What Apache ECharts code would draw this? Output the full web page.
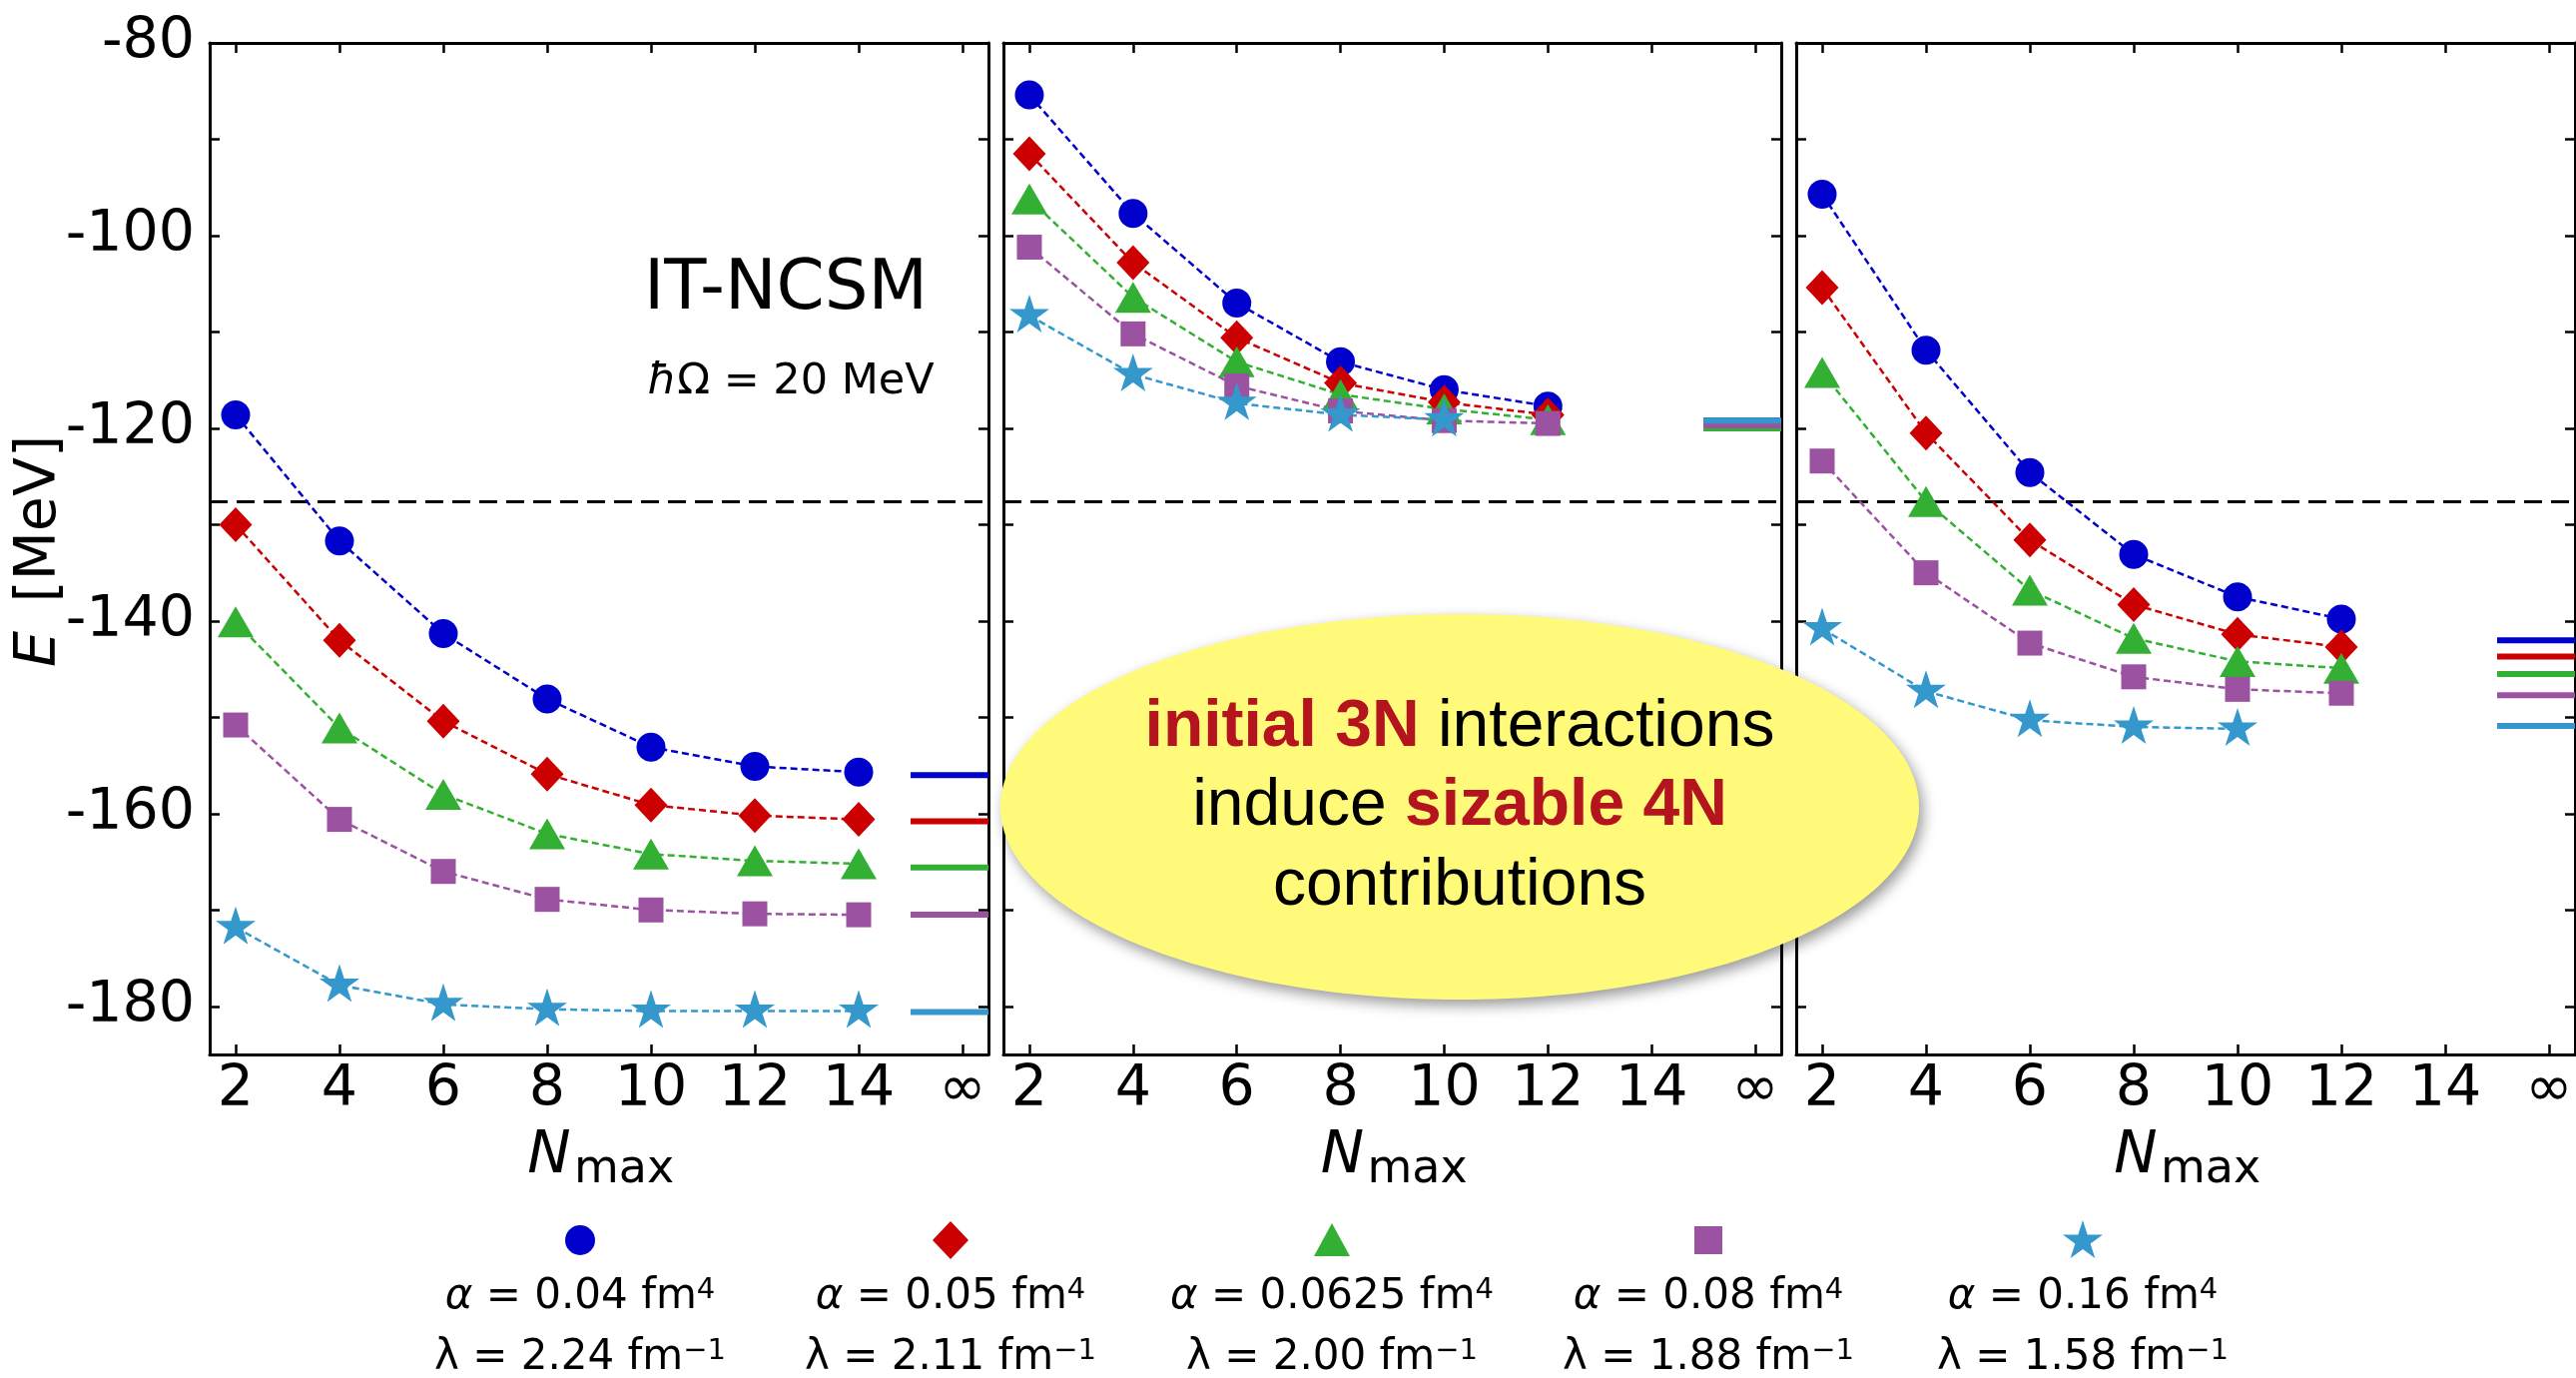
<!DOCTYPE html>
<html><head><meta charset="utf-8">
<script src="https://cdn.jsdelivr.net/npm/echarts@6/dist/echarts.min.js"></script>
<style>html,body{margin:0;padding:0;background:#fff}#c{width:2580px;height:1380px}</style>
</head><body><div id="c"></div>
<script>
// ---------- data ----------
const nmaxTicks = [2, 4, 6, 8, 10, 12, 14, 16];
const nmaxTickLabels = ['2', '4', '6', '8', '10', '12', '14', '∞'];
const energyTicks = [-180, -170, -160, -150, -140, -130, -120, -110, -100, -90, -80];
const energyLabels = [-180, -160, -140, -120, -100, -80];
const expEnergy = -127.62;

const alphaValues = ['0.04', '0.05', '0.0625', '0.08', '0.16'];
const lambdaValues = ['2.24', '2.11', '2.00', '1.88', '1.58'];

// left panel
const leftNmax = [2, 4, 6, 8, 10, 12, 14];
const leftA004 = [-118.6, -131.7, -141.3, -148.1, -153.1, -155.1, -155.7];
const leftA005 = [-130.0, -142.0, -150.4, -155.9, -159.1, -160.2, -160.6];
const leftA0625 = [-140.1, -151.1, -158.0, -162.1, -164.2, -164.9, -165.2];
const leftA008 = [-150.8, -160.6, -166.0, -168.9, -170.0, -170.4, -170.5];
const leftA016 = [-171.8, -177.8, -179.8, -180.3, -180.5, -180.5, -180.5];
const leftInf = [-156.0, -160.8, -165.6, -170.5, -180.6];

// middle panel
const midNmax = [2, 4, 6, 8, 10, 12];
const midA004 = [-85.4, -97.7, -107.0, -113.1, -116.0, -117.7];
const midA005 = [-91.5, -102.8, -110.6, -115.3, -117.3, -118.6];
const midA0625 = [-96.2, -106.4, -113.1, -116.5, -118.0, -119.1];
const midA008 = [-101.2, -110.2, -115.6, -118.2, -119.2, -119.5];
const midA016 = [-108.3, -114.4, -117.4, -118.6, -119.1];
const midInf = [-119.2, -119.4, -120.0, -119.7, -119.2];

// right panel
const rightNmax = [2, 4, 6, 8, 10, 12];
const rightA004 = [-95.7, -111.9, -124.6, -133.1, -137.5, -139.8];
const rightA005 = [-105.4, -120.5, -131.6, -138.3, -141.4, -142.7];
const rightA0625 = [-114.2, -127.6, -136.8, -141.8, -144.2, -144.9];
const rightA008 = [-123.4, -135.0, -142.3, -145.8, -147.1, -147.5];
const rightA016 = [-140.8, -147.3, -150.3, -151.0, -151.2];
const rightInf = [-142.0, -143.7, -145.5, -147.7, -150.9];

// ---------- styles ----------
const colors = ['#0000cc', '#cc0000', '#33b033', '#9b52a0', '#3498cc'];
const STAR = 'path://M50,0L61.23,34.55L97.55,34.55L68.17,55.9L79.39,90.45L50,69.1L20.61,90.45L31.83,55.9L2.45,34.55L38.77,34.55Z';
const symbols = ['circle', 'diamond', 'triangle', 'rect', STAR];
const symbolSizes = [29, [33, 35], [36, 31], 25, [40, 38]];
const symbolOffsets = [[0,0],[0,0],[0,0],[0,0],[0,-2]];

const panels = [
  { xs: leftNmax, vals: [leftA004, leftA005, leftA0625, leftA008, leftA016], inf: leftInf, left: 210, width: 780 },
  { xs: midNmax, vals: [midA004, midA005, midA0625, midA008, midA016], inf: midInf, left: 1005, width: 779 },
  { xs: rightNmax, vals: [rightA004, rightA005, rightA0625, rightA008, rightA016], inf: rightInf, left: 1799, width: 780 }
];
const TOP = 43, HEIGHT = 1013;
const XMIN = 1.5, XMAX = 16.5, INF_START = 15;
const YMIN = -185, YMAX = -80;
const FONT = 'DejaVu Sans';

const grids = [], xAxes = [], yAxes = [], series = [];
panels.forEach((p, pi) => {
  grids.push({ left: p.left, top: TOP, width: p.width, height: HEIGHT, containLabel: false });
  const axLine = { show: true, onZero: false, lineStyle: { color: '#000', width: 3 } };
  const tickX = { show: true, inside: true, length: 10, customValues: nmaxTicks, lineStyle: { color: '#000', width: 2.5 } };
  const tickY = { show: true, inside: true, length: 10, customValues: energyTicks, lineStyle: { color: '#000', width: 2.5 } };
  xAxes.push({
    gridIndex: pi, type: 'value', min: XMIN, max: XMAX, position: 'bottom',
    axisLine: axLine, axisTick: tickX, splitLine: { show: false },
    axisLabel: { show: true, customValues: nmaxTicks, margin: 8, color: '#000', fontSize: 57, fontFamily: FONT,
      formatter: v => nmaxTickLabels[nmaxTicks.indexOf(v)] }
  });
  xAxes.push({
    gridIndex: pi, type: 'value', min: XMIN, max: XMAX, position: 'top',
    axisLine: axLine, axisTick: tickX, splitLine: { show: false }, axisLabel: { show: false }
  });
  yAxes.push({
    gridIndex: pi, type: 'value', min: YMIN, max: YMAX, position: 'left',
    axisLine: axLine, axisTick: tickY, splitLine: { show: false },
    axisLabel: { show: pi === 0, customValues: energyLabels, margin: 15, color: '#000', fontSize: 57, fontFamily: FONT,
      formatter: v => String(v) }
  });
  yAxes.push({
    gridIndex: pi, type: 'value', min: YMIN, max: YMAX, position: 'right',
    axisLine: axLine, axisTick: tickY, splitLine: { show: false }, axisLabel: { show: false }
  });
  // experimental dashed line
  series.push({
    type: 'line', xAxisIndex: pi * 2, yAxisIndex: pi * 2, data: [[XMIN, expEnergy], [XMAX, expEnergy]],
    symbol: 'none', silent: true, z: 1,
    lineStyle: { color: '#000', width: 3, type: [18, 9] }
  });
  p.vals.forEach((vals, k) => {
    series.push({
      name: 'α = ' + alphaValues[k] + ' fm⁴',
      type: 'line', xAxisIndex: pi * 2, yAxisIndex: pi * 2,
      data: vals.map((v, i) => [p.xs[i], v]),
      symbol: symbols[k], symbolSize: symbolSizes[k], symbolOffset: symbolOffsets[k],
      itemStyle: { color: colors[k] },
      lineStyle: { color: colors[k], width: 2.5, type: [7, 4] },
      z: 2, silent: true
    });
  });
  p.inf.forEach((v, k) => {
    series.push({
      type: 'line', xAxisIndex: pi * 2, yAxisIndex: pi * 2,
      data: [[INF_START, v], [XMAX, v]], symbol: 'none', silent: true, z: 2,
      lineStyle: { color: colors[k], width: 6 }
    });
  });
});

// ---------- graphic (annotations & legend) ----------
const graphic = [];
graphic.push({ type: 'text', x: 787, y: 291, style: { text: 'IT-NCSM', fontSize: 69, fontFamily: FONT, fill: '#000', textAlign: 'center', textVerticalAlign: 'middle' } });
graphic.push({ type: 'text', x: 792, y: 383, style: { text: '{i|ħ}Ω = 20 MeV', fontSize: 43, fontFamily: FONT, fill: '#000', textAlign: 'center', textVerticalAlign: 'middle',
  rich: { i: { fontStyle: 'italic', fontSize: 43, fontFamily: FONT, fill: '#000' } } } });
// y axis title
graphic.push({ type: 'text', x: 40, y: 552, rotation: Math.PI / 2, style: { text: '{i|E}\u2002[MeV]', fontSize: 57, fontFamily: FONT, fill: '#000', textAlign: 'center', textVerticalAlign: 'middle',
  rich: { i: { fontStyle: 'italic', fontSize: 57, fontFamily: FONT, fill: '#000' } } } });
// x axis titles
panels.forEach(p => {
  const c = p.left + p.width / 2;
  graphic.push({ type: 'text', x: c - 50, y: 1159, style: { text: 'N', fontSize: 58, fontStyle: 'italic', fontFamily: FONT, fill: '#000', textAlign: 'center', textVerticalAlign: 'middle' } });
  graphic.push({ type: 'text', x: c - 25, y: 1172, style: { text: 'max', fontSize: 46, fontFamily: FONT, fill: '#000', textAlign: 'left', textVerticalAlign: 'middle' } });
});
// ellipse callout
graphic.push({ type: 'ellipse', z: 100, shape: { cx: 1462, cy: 808, rx: 460, ry: 193 },
  style: { fill: '#fffa7a', shadowBlur: 14, shadowColor: 'rgba(0,0,0,0.4)', shadowOffsetX: 4, shadowOffsetY: 6 } });
const RED = '#b3141e', SANS = 'Liberation Sans';
const calloutLines = [
  ['{r|initial 3N} interactions', 729],
  ['induce {r|sizable 4N}', 808],
  ['contributions', 888]
];
calloutLines.forEach(([t, y]) => {
  graphic.push({ type: 'text', z: 101, x: 1462, y: y, style: { text: t, fontSize: 66, fontFamily: SANS, fill: '#000', textAlign: 'center', textVerticalAlign: 'middle',
    rich: { r: { fill: RED, color: RED, fontWeight: 'bold', fontSize: 66, fontFamily: SANS } } } });
});
// legend
const legendX = [581, 952, 1334, 1711, 2086];
const LY = 1242;
function starPoints(cx, cy, R) {
  const pts = [];
  for (let i = 0; i < 10; i++) {
    const r = i % 2 === 0 ? R : R * 0.382;
    const a = -Math.PI / 2 + i * Math.PI / 5;
    pts.push([cx + r * Math.cos(a), cy + r * Math.sin(a)]);
  }
  return pts;
}
const legendRich = {
  a: { fontStyle: 'italic', fontSize: 42, fontFamily: FONT, fill: '#000' },
  t: { fontSize: 42, fontFamily: FONT, fill: '#000' },
  s: { fontSize: 29, fontFamily: FONT, fill: '#000', verticalAlign: 'top' }
};
legendX.forEach((x, k) => {
  const col = colors[k];
  if (k === 0) graphic.push({ type: 'circle', shape: { cx: x, cy: LY, r: 15 }, style: { fill: col } });
  if (k === 1) graphic.push({ type: 'polygon', shape: { points: [[x, LY - 19], [x + 18, LY], [x, LY + 19], [x - 18, LY]] }, style: { fill: col } });
  if (k === 2) graphic.push({ type: 'polygon', shape: { points: [[x, LY - 17], [x + 18, LY + 16], [x - 18, LY + 16]] }, style: { fill: col } });
  if (k === 3) graphic.push({ type: 'rect', shape: { x: x - 14, y: LY - 14, width: 28, height: 28 }, style: { fill: col } });
  if (k === 4) graphic.push({ type: 'polygon', shape: { points: starPoints(x, LY + 1, 21) }, style: { fill: col } });
  graphic.push({ type: 'text', x: x, y: 1299, style: { text: '{a|α}{t| = ' + alphaValues[k] + ' fm}{s|4}', fontSize: 42, fontFamily: FONT, fill: '#000', textAlign: 'center', textVerticalAlign: 'middle',
    rich: legendRich } });
  graphic.push({ type: 'text', x: x, y: 1360, style: { text: '{t|λ = ' + lambdaValues[k] + ' fm}{s|−1}', fontSize: 42, fontFamily: FONT, fill: '#000', textAlign: 'center', textVerticalAlign: 'middle',
    rich: legendRich } });
});

const chart = echarts.init(document.getElementById('c'), null, { renderer: 'canvas' });
chart.setOption({
  animation: false,
  backgroundColor: '#fff',
  grid: grids, xAxis: xAxes, yAxis: yAxes, series: series, graphic: graphic
});
</script></body></html>
